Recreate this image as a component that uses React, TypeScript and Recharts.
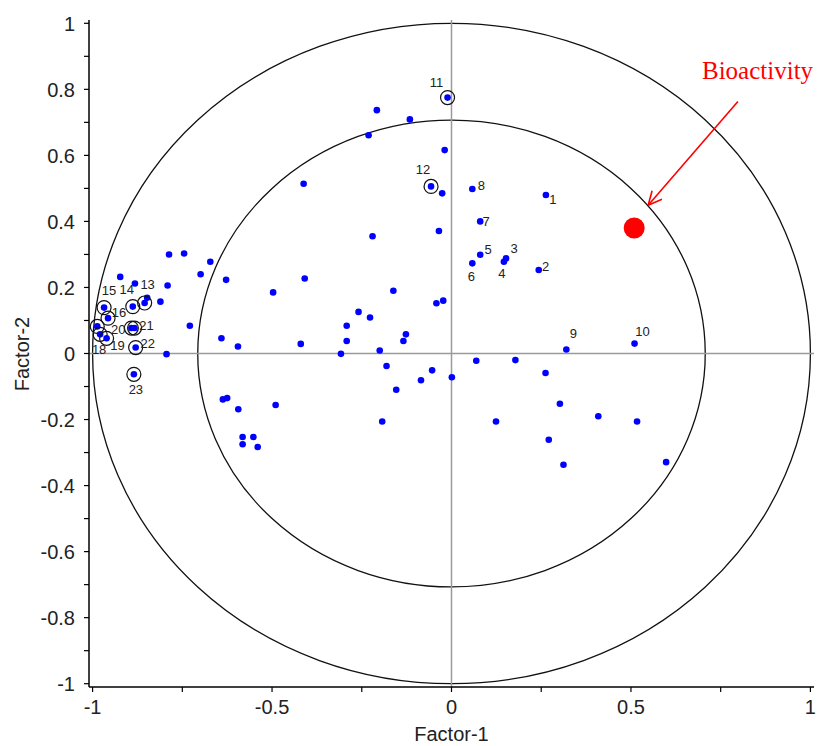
import { ScatterChart, Scatter, XAxis, YAxis, ReferenceLine, ReferenceArea, Customized } from 'recharts';

// labelled compounds (1-23)
const labeledIds = ['1', '2', '3', '4', '5', '6', '7', '8', '9', '10', '11', '12', '13', '14', '15', '16', '17', '18', '19', '20', '21', '22', '23'];
const labeledX = [0.263, 0.243, 0.152, 0.146, 0.08, 0.058, 0.08, 0.058, 0.32, 0.51, -0.011, -0.057, -0.855, -0.888, -0.968, -0.957, -0.987, -0.979, -0.961, -0.892, -0.883, -0.88, -0.885];
const labeledY = [0.48, 0.253, 0.288, 0.278, 0.299, 0.273, 0.4, 0.498, 0.012, 0.03, 0.775, 0.506, 0.153, 0.142, 0.139, 0.107, 0.082, 0.058, 0.046, 0.077, 0.077, 0.018, -0.063];
const circledIds = ['11', '12', '13', '14', '15', '16', '17', '18', '19', '20', '21', '22', '23'];

// other compounds
const otherX = [-0.787, -0.745, -0.672, -0.923, -0.882, -0.699, -0.791, -0.848, -0.811, -0.729, -0.794, -0.208, -0.116, -0.231, -0.019, -0.026, -0.412, -0.22, -0.035, -0.628, -0.409, -0.497, -0.162, -0.042, -0.023, -0.259, -0.227, -0.292, -0.292, -0.641, -0.595, -0.42, -0.134, -0.127, -0.308, -0.2, -0.181, -0.054, -0.085, 0.001, 0.069, 0.178, -0.154, 0.262, 0.302, 0.409, 0.517, 0.124, 0.271, 0.312, 0.598, -0.637, -0.625, -0.594, -0.49, -0.193, -0.582, -0.552, -0.582, -0.54];
const otherY = [0.3, 0.303, 0.278, 0.232, 0.212, 0.24, 0.206, 0.169, 0.157, 0.084, -0.002, 0.737, 0.709, 0.661, 0.616, 0.485, 0.514, 0.355, 0.371, 0.223, 0.227, 0.185, 0.19, 0.152, 0.16, 0.126, 0.109, 0.084, 0.038, 0.046, 0.021, 0.029, 0.038, 0.058, -0.001, 0.009, -0.038, -0.051, -0.081, -0.072, -0.022, -0.02, -0.11, -0.059, -0.152, -0.19, -0.206, -0.206, -0.261, -0.337, -0.329, -0.139, -0.135, -0.169, -0.156, -0.206, -0.253, -0.253, -0.275, -0.283];

// response variable
const bioX = [0.509];
const bioY = [0.38];
const bioLabel = 'Bioactivity';
const arrowFrom = { x: 0.798, y: 0.763 };
const arrowTo = { x: 0.548, y: 0.449 };

const circleRadii = [1, 0.707];
const xTicks = [-1, -0.75, -0.5, -0.25, 0, 0.25, 0.5, 0.75, 1];
const yTicks = [-1, -0.9, -0.8, -0.7, -0.6, -0.5, -0.4, -0.3, -0.2, -0.1, 0, 0.1, 0.2, 0.3, 0.4, 0.5, 0.6, 0.7, 0.8, 0.9, 1];

const labeledData = labeledIds.map((id, i) => ({ id, x: labeledX[i], y: labeledY[i] }));
const otherData = otherX.map((x, i) => ({ x, y: otherY[i] }));
const bioData = bioX.map((x, i) => ({ x, y: bioY[i] }));

const labelOffsets: Record<string, [number, number]> = {
  '1': [7, 4], '2': [7, -3], '3': [8, -10], '4': [-2, 12], '5': [8, -5], '6': [-1, 13],
  '7': [6, 0], '8': [9, -4], '9': [7, -16], '10': [8, -12], '11': [-11, -15], '12': [-8, -17],
  '13': [3, -18], '14': [-6, -17], '15': [5, -17], '16': [11, -6], '18': [-1, 15], '19': [11, 7],
  '20': [-13, 1], '21': [12, -3], '22': [12, -4], '23': [2, 15],
};

const FONT = 'Liberation Sans, Arial, sans-serif';
const BLUE = '#0000ff';

const isMajor = (v: number, step: number) => Math.abs(v / step - Math.round(v / step)) < 1e-6;

const XTick = (props: any) => {
  const { x, y, payload } = props;
  if (!isMajor(payload.value, 0.5)) return <g />;
  return (
    <text x={x} y={y} dy="0.71em" textAnchor="middle" fontSize={20} fontFamily={FONT} fill="#222">
      {String(payload.value)}
    </text>
  );
};

const YTick = (props: any) => {
  const { x, y, payload } = props;
  if (!isMajor(payload.value, 0.2)) return <g />;
  return (
    <text x={x} y={y} dy="0.36em" textAnchor="end" fontSize={20} fontFamily={FONT} fill="#222">
      {String(Math.round(payload.value * 10) / 10)}
    </text>
  );
};

const LabeledDot = (props: any) => {
  const { cx, cy, payload } = props;
  const off = labelOffsets[payload.id];
  return (
    <g>
      <circle cx={cx} cy={cy} r={3.3} fill={BLUE} />
      {circledIds.includes(payload.id) && <circle cx={cx} cy={cy} r={7} fill="none" stroke="#111" strokeWidth={1.2} />}
      {off && (
        <text x={cx + off[0]} y={cy + off[1]} textAnchor="middle" dominantBaseline="central" fontSize={13} fontFamily={FONT} fill="#222">
          {payload.id}
        </text>
      )}
    </g>
  );
};

const Arrow = (props: any) => {
  const { x1, y1, x2, y2 } = props;
  const a = Math.atan2(y2 - y1, x2 - x1);
  const len = 15;
  const spread = 0.45;
  return (
    <g>
      <line x1={x1} y1={y1} x2={x2} y2={y2} stroke="#ff0000" strokeWidth={1.6} />
      <line x1={x2} y1={y2} x2={x2 - len * Math.cos(a - spread)} y2={y2 - len * Math.sin(a - spread)} stroke="#ff0000" strokeWidth={1.6} />
      <line x1={x2} y1={y2} x2={x2 - len * Math.cos(a + spread)} y2={y2 - len * Math.sin(a + spread)} stroke="#ff0000" strokeWidth={1.6} />
    </g>
  );
};

const BioText = () => (
  <text x={694} y={71} fontSize={25} fontFamily="Liberation Serif, Times New Roman, serif" fill="#ff0000">
    {bioLabel}
  </text>
);

export default function App() {
  return (
    <div style={{ position: 'absolute', left: 8, top: 8, width: 811, height: 738 }}>
      <ScatterChart width={811} height={738} margin={{ top: 12, right: 5, bottom: 0, left: 0 }}>
        <XAxis
          type="number"
          dataKey="x"
          domain={[-1.01, 1.01]}
          ticks={xTicks}
          allowDataOverflow
          height={59}
          tickSize={5}
          tickMargin={8}
          tick={<XTick />}
          axisLine={{ stroke: '#000', strokeWidth: 1.5 }}
          tickLine={{ stroke: '#000', strokeWidth: 1.2 }}
          label={{ value: 'Factor-1', position: 'insideBottom', offset: 5, fontSize: 20, fontFamily: FONT, fill: '#222' }}
        />
        <YAxis
          type="number"
          dataKey="y"
          domain={[-1.01, 1.01]}
          ticks={yTicks}
          allowDataOverflow
          width={81}
          tickSize={5}
          tickMargin={9}
          tick={<YTick />}
          axisLine={{ stroke: '#000', strokeWidth: 1.5 }}
          tickLine={{ stroke: '#000', strokeWidth: 1.2 }}
          label={{
            content: () => (
              <text x={14} y={346} transform="rotate(-90 14 346)" textAnchor="middle" dominantBaseline="central" fontSize={20} fontFamily={FONT} fill="#222">
                Factor-2
              </text>
            ),
          }}
        />
        <ReferenceLine x={0} stroke="#9a9a9a" strokeWidth={1.5} />
        <ReferenceLine y={0} stroke="#9a9a9a" strokeWidth={1.5} />
        {circleRadii.map((r) => (
          <ReferenceArea
            key={r}
            x1={-r}
            x2={r}
            y1={-r}
            y2={r}
            ifOverflow="visible"
            shape={(p: any) => (
              <ellipse
                cx={p.x + p.width / 2}
                cy={p.y + p.height / 2}
                rx={Math.abs(p.width) / 2}
                ry={Math.abs(p.height) / 2}
                fill="none"
                stroke="#111"
                strokeWidth={1.3}
              />
            )}
          />
        ))}
        <ReferenceLine segment={[arrowFrom, arrowTo]} ifOverflow="visible" shape={<Arrow />} />
        <Scatter data={otherData} fill={BLUE} isAnimationActive={false} shape={(p: any) => <circle cx={p.cx} cy={p.cy} r={3.3} fill={BLUE} />} />
        <Scatter data={labeledData} fill={BLUE} isAnimationActive={false} shape={<LabeledDot />} />
        <Scatter data={bioData} fill="#ff0000" isAnimationActive={false} shape={(p: any) => <circle cx={p.cx} cy={p.cy} r={10.5} fill="#ff0000" />} />
        <Customized component={<BioText />} />
      </ScatterChart>
    </div>
  );
}
